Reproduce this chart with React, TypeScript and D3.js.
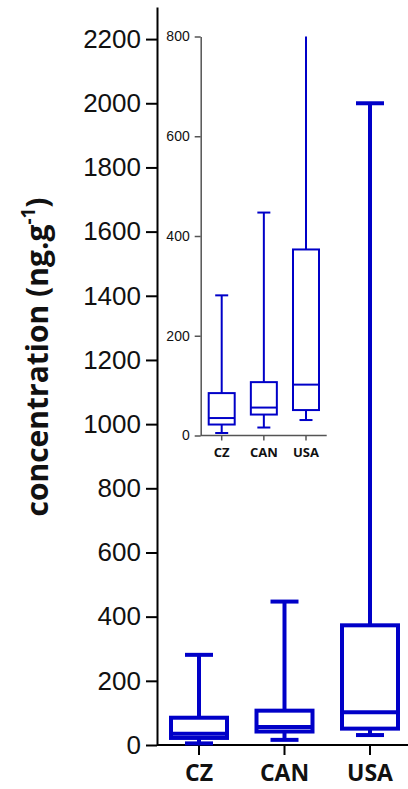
import { useEffect, useRef } from "react";
import * as d3 from "d3";

const categories = ["CZ", "CAN", "USA"];
const lowerWhisker = [5, 16, 31];
const q1 = [22, 42, 51];
const median = [35, 56, 102];
const q3 = [85, 107, 373];
const upperWhisker = [281, 447, 2000];
const mainTicks = [0, 200, 400, 600, 800, 1000, 1200, 1400, 1600, 1800, 2000, 2200];
const insetTicks = [0, 200, 400, 600, 800];

const BLUE = "#0000c8";

export default function App() {
  const ref = useRef<SVGSVGElement>(null);
  useEffect(() => {
    document.body.style.margin = "0";
    if (!ref.current) return;
    const svg = d3.select(ref.current);
    svg.selectAll("*").remove();
    const rows = categories.map((c, i) => ({
      c, lo: lowerWhisker[i], q1: q1[i], med: median[i], q3: q3[i], hi: upperWhisker[i],
    }));

    const drawPanel = (opts: {
      x: d3.ScalePoint<string>; y: d3.ScaleLinear<number, number>;
      box: number; sw: number; axisColor: string; axisW: number;
      left: number; right: number; ticks: number[]; tickLen: number;
      tickFont: number; catFont: number; catY: number; catTick: number;
    }) => {
      const { x, y, box, sw } = opts;
      const g = svg.append("g");
      // y axis
      const ya = g.append("g")
        .attr("transform", `translate(${opts.left},0)`)
        .call(d3.axisLeft(y).tickValues(opts.ticks).tickSize(opts.tickLen).tickSizeOuter(0).tickPadding(5).tickFormat(d3.format("d")));
      ya.select(".domain").attr("stroke", opts.axisColor).attr("stroke-width", opts.axisW);
      ya.selectAll(".tick line").attr("stroke", opts.axisColor).attr("stroke-width", opts.axisW);
      ya.selectAll("text").attr("font-family", "'Liberation Sans', Arial, sans-serif")
        .attr("font-size", opts.tickFont).attr("fill", "#111");
      // x axis
      g.append("line").attr("x1", opts.left).attr("x2", opts.right)
        .attr("y1", y(0)).attr("y2", y(0))
        .attr("stroke", opts.axisColor).attr("stroke-width", opts.axisW);
      rows.forEach((d) => {
        const cx = x(d.c)!;
        g.append("line").attr("x1", cx).attr("x2", cx)
          .attr("y1", y(0)).attr("y2", y(0) + opts.catTick)
          .attr("stroke", opts.axisColor).attr("stroke-width", opts.axisW);
        g.append("text").attr("x", cx).attr("y", opts.catY)
          .attr("text-anchor", "middle")
          .attr("font-family", "'Open Sans', sans-serif").attr("font-weight", 700)
          .attr("font-size", opts.catFont).attr("fill", "#111").text(d.c);
      });
      // boxes
      rows.forEach((d) => {
        const cx = x(d.c)!;
        const bg = g.append("g").attr("stroke", BLUE).attr("stroke-width", sw).attr("fill", "none");
        bg.append("line").attr("x1", cx).attr("x2", cx).attr("y1", y(d.q3)).attr("y2", y(d.hi));
        bg.append("line").attr("x1", cx).attr("x2", cx).attr("y1", y(d.q1)).attr("y2", y(d.lo));
        if (d.hi <= y.domain()[1]) {
          bg.append("line").attr("x1", cx - box / 4).attr("x2", cx + box / 4).attr("y1", y(d.hi)).attr("y2", y(d.hi));
        }
        bg.append("line").attr("x1", cx - box / 4).attr("x2", cx + box / 4).attr("y1", y(d.lo)).attr("y2", y(d.lo));
        bg.append("rect").attr("x", cx - box / 2).attr("width", box)
          .attr("y", y(d.q3)).attr("height", y(d.q1) - y(d.q3)).attr("fill", "#fff");
        bg.append("line").attr("x1", cx - box / 2).attr("x2", cx + box / 2).attr("y1", y(d.med)).attr("y2", y(d.med));
      });
    };

    // main chart
    const x = d3.scalePoint<string>().domain(categories).range([199, 370]);
    const y = d3.scaleLinear().domain([0, 2300]).range([745, 7]);
    drawPanel({ x, y, box: 56, sw: 4, axisColor: "#000", axisW: 2, left: 157, right: 408,
      ticks: mainTicks, tickLen: 11, tickFont: 26, catFont: 23, catY: 781, catTick: 10 });

    // inset
    const xi = d3.scalePoint<string>().domain(categories).range([221.7, 306]);
    const yi = d3.scaleLinear().domain([0, 800]).range([435.5, 36.5]).clamp(true);
    drawPanel({ x: xi, y: yi, box: 26, sw: 2, axisColor: "#555", axisW: 1.5, left: 200.7, right: 326.7,
      ticks: insetTicks, tickLen: 6, tickFont: 14, catFont: 13, catY: 457, catTick: 5 });

    // y label
    const lab = svg.append("text")
      .attr("transform", "translate(48,357) rotate(-90)")
      .attr("text-anchor", "middle")
      .attr("font-family", "'Open Sans', sans-serif").attr("font-weight", 700)
      .attr("font-size", 30).attr("fill", "#111");
    lab.append("tspan").text("concentration (ng.g");
    lab.append("tspan").attr("font-size", 19).attr("dy", -13).text("-1");
    lab.append("tspan").attr("dy", 13).text(")");
  }, []);
  return <svg ref={ref} width={408} height={789} style={{ display: "block", background: "#fff" }} />;
}
